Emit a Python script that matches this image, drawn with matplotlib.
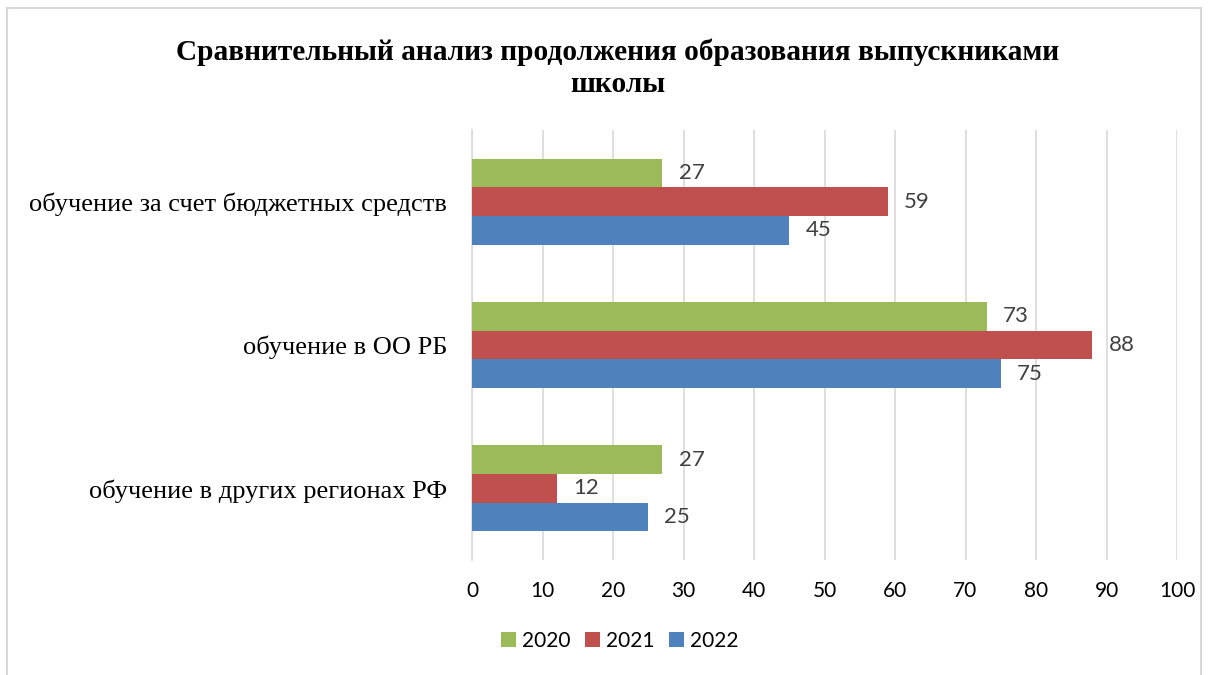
import matplotlib.pyplot as plt
import numpy as np
from matplotlib.patches import Rectangle

categories = ['обучение в других регионах РФ', 'обучение в ОО РБ', 'обучение за счет бюджетных средств']
years = ['2020', '2021', '2022']
v2020 = [27, 73, 27]
v2021 = [12, 88, 59]
v2022 = [25, 75, 45]
colors = ['#9BBB59', '#C0504D', '#4F81BD']

fig = plt.figure(figsize=(12.09, 6.75), dpi=100)
ax = fig.add_axes([472 / 1209, 1 - 560 / 675, 705 / 1209, 430 / 675])

# frame round the chart
fig.patches.append(Rectangle((7 / 1209, -0.05), 1194 / 1209, 1 - 8 / 675 + 0.05,
                             transform=fig.transFigure, fill=False,
                             edgecolor='#d9d9d9', linewidth=1.5))

y = np.arange(len(categories))
h = 0.2
offsets = [h, 0, -h]
for vals, off, c, lab in zip([v2020, v2021, v2022], offsets, colors, years):
    bars = ax.barh(y + off, vals, height=h, color=c, label=lab, zorder=3)
    for b, v in zip(bars, vals):
        ax.text(v + 2.3, b.get_y() + h / 2, str(v), va='center', ha='left',
                fontsize=16, color='#404040', family='Lato')

ax.set_xlim(0, 100)
ax.set_ylim(-0.5, 2.5)
ax.set_xticks(np.arange(0, 101, 10))
ax.set_yticks(y)
ax.set_yticklabels(categories, family='Liberation Serif', fontsize=19)
for t in ax.get_xticklabels():
    t.set_family('Lato')
    t.set_fontsize(15)
ax.grid(axis='x', color='#d9d9d9', linewidth=1.2, zorder=0)
for s in ['top', 'right', 'bottom']:
    ax.spines[s].set_visible(False)
ax.spines['left'].set_color('#d9d9d9')
ax.spines['left'].set_linewidth(1.2)
ax.tick_params(axis='both', length=0)
ax.tick_params(axis='x', pad=15)
ax.tick_params(axis='y', pad=18)

fig.text(618 / 1209, 1 - 52 / 675, 'Сравнительный анализ продолжения образования выпускниками',
         ha='center', va='center', family='Liberation Serif', fontweight='bold', fontsize=21.2)
fig.text(618 / 1209, 1 - 85 / 675, 'школы',
         ha='center', va='center', family='Liberation Serif', fontweight='bold', fontsize=21.2)

leg = fig.legend(loc='center', bbox_to_anchor=(620 / 1209, 1 - 641 / 675), ncol=3,
                 frameon=False, prop={'family': 'Lato', 'size': 15},
                 handlelength=0.7, handleheight=0.7, handletextpad=0.3, columnspacing=0.7)

fig.savefig('out.png', dpi=100)
